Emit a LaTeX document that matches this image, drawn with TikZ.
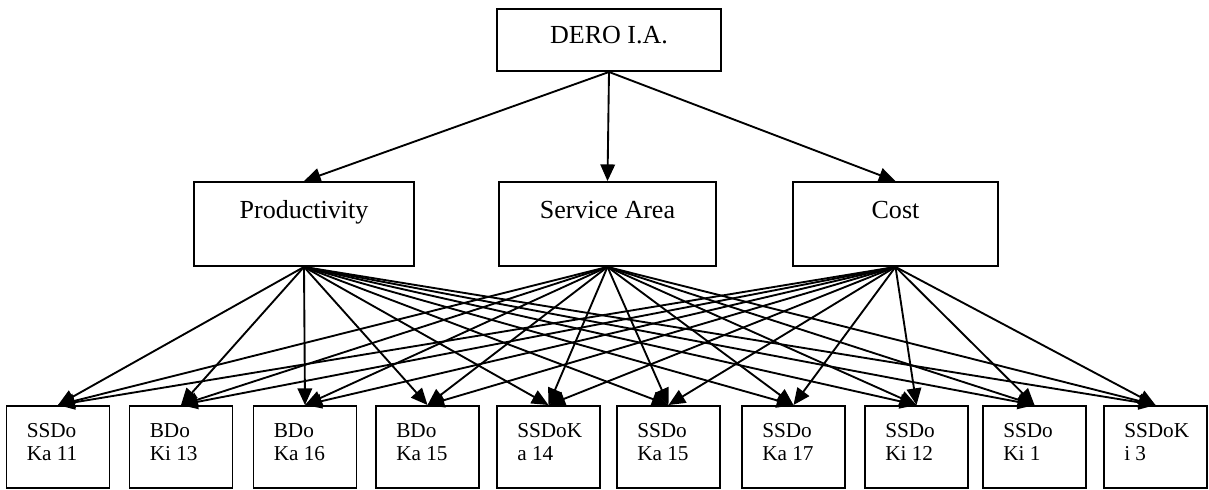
\documentclass[tikz,border=0pt]{standalone}
\usepackage{fontspec}
\setmainfont{Liberation Serif}
\usetikzlibrary{arrows.meta}
\newcommand{\twolines}[2]{\parbox[t]{30pt}{\raggedright #1\\#2}}

\begin{document}
\begin{tikzpicture}[x = 0.48pt, y = -0.48pt, line width = 0.9pt,
	> = {Stealth[inset = 0pt, length = 8pt, width = 7pt]},
	topbox/.style = {draw, inner sep = 0pt, font = \fontsize{12.5}{15}\selectfont},
	midbox/.style = {topbox, text height = 17.3pt, text depth = 23pt},
	leafbox/.style = {draw, inner xsep = 9.7pt, inner ysep = 0pt, text height = 14.9pt,
		text depth = 24.5pt, font = \fontsize{10.2}{11.3}\selectfont}]
	\useasboundingbox (0,0) rectangle (1209,490);
	\node [topbox, minimum width = 107.5pt, text height = 16.8pt, text depth = 13pt] (dero) at (609,40) {DERO I.A.};
	\node [midbox, minimum width = 105.6pt] (prod) at (304,224) {Productivity};
	\node [midbox, minimum width = 104.2pt] (serv) at (607.5,224) {Service Area};
	\node [midbox, minimum width = 98.4pt] (cost) at (895.5,224) {Cost};
	\foreach \x/\a/\b [count = \i] in {58/SSDo/Ka 11, 181/BDo/Ki 13, 305/BDo/Ka 16,
		427.5/BDo/Ka 15, 548.5/SSDoK/a 14, 668.5/SSDo/Ka 15, 793.5/SSDo/Ka 17,
		916.5/SSDo/Ki 12, 1034.5/SSDo/Ki 1, 1155.5/SSDoK/i 3}
	\node [leafbox] (b\i) at (\x,447) {\twolines{\a}{\b}};
	\foreach \s in {prod,serv,cost}
	\draw [->] (dero.south) -- (\s.north);
	\foreach \s in {prod,serv,cost}
	\foreach \i in {1,...,10}
	\draw [->] (\s.south) -- (b\i.north);
\end{tikzpicture}
\end{document}
